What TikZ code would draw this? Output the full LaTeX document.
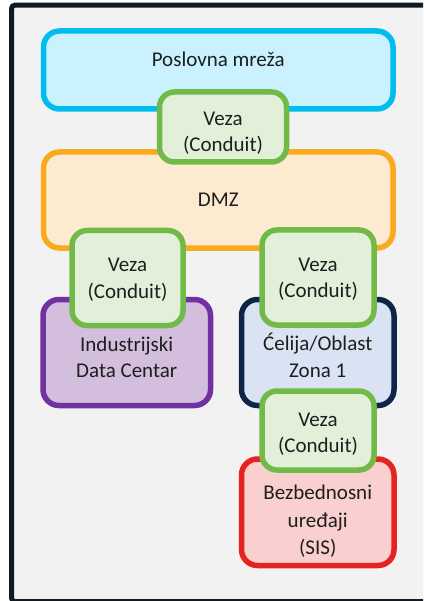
\documentclass[tikz,border=0pt]{standalone}
\usepackage{fontspec}
\setmainfont{Carlito}
\usepackage{tikz}
\definecolor{Frame}{HTML}{131B22}
\definecolor{PageBg}{HTML}{F2F2F2}
\definecolor{Ink}{HTML}{1E1E1E}
\definecolor{BizLine}{HTML}{00BDEE}
\definecolor{BizFill}{HTML}{C9F2FE}
\definecolor{DmzLine}{HTML}{FAAA1E}
\definecolor{DmzFill}{HTML}{FCEBD0}
\definecolor{ConLine}{HTML}{71BA48}
\definecolor{ConFill}{HTML}{E2F0D9}
\definecolor{IdcLine}{HTML}{7231A1}
\definecolor{IdcFill}{HTML}{D3BFDD}
\definecolor{CellLine}{HTML}{0F2547}
\definecolor{CellFill}{HTML}{DAE3F3}
\definecolor{SisLine}{HTML}{E5241F}
\definecolor{SisFill}{HTML}{F9D0CF}

\begin{document}
\begin{tikzpicture}[
        x=1pt, y=-1pt,
        every node/.style={font=\fontsize{21}{26.5}\selectfont, text=Ink},
        zone/.style={rounded corners=16pt, line width=5.5pt, inner sep=0pt},
        conduit/.style={zone, draw=ConLine, fill=ConFill, rounded corners=15pt},
        lbl/.style={align=center, inner sep=0pt}
    ]
        \fill[white] (0,0) rectangle (423,601);
        \useasboundingbox (0,0) rectangle (423,601);
        \begin{scope}
            \clip (0,0) rectangle (423,601);
            \draw[draw=Frame, fill=PageBg, line width=5pt, rounded corners=3pt] (11.7,5.2) rectangle (470,601.5);
        \end{scope}

        % zones
        \node[zone, draw=BizLine, fill=BizFill, minimum width=349.5pt, minimum height=78pt] (biz) at (218.25,70) {};
        \node[zone, draw=DmzLine, fill=DmzFill, minimum width=349.5pt, minimum height=96pt] (dmz) at (218.25,200) {};
        \node[zone, draw=IdcLine, fill=IdcFill, minimum width=167.5pt, minimum height=106pt] (idc) at (126.75,352.5) {};
        \node[zone, draw=CellLine, fill=CellFill, minimum width=152.5pt, minimum height=106pt] (cell) at (317.75,352.5) {};
        \node[zone, draw=SisLine, fill=SisFill, minimum width=152.5pt, minimum height=106.5pt] (sis) at (317.75,512.25) {};

        \node[lbl] (biz-t) at ([yshift=11pt]biz.center) {Poslovna mreža};
        \node[lbl] (dmz-t) at (dmz.center) {DMZ};
        \node[lbl] (idc-t) at ([yshift=-5pt]idc.center) {Industrijski\\Data Centar};
        \node[lbl] (cell-t) at ([yshift=-3pt]cell.center) {Ćelija/Oblast\\Zona 1};
        \node[lbl, font=\fontsize{21}{27.5}\selectfont] (sis-t) at ([yshift=-9pt]sis.center) {Bezbednosni\\uređaji\\(SIS)};

        % conduits
        \node[conduit, minimum width=127pt, minimum height=70pt] (c1) at (223,127) {};
        \node[conduit, minimum width=111pt, minimum height=95pt] (c2) at (127.5,278) {};
        \node[conduit, minimum width=112pt, minimum height=95pt] (c3) at (318,277.5) {};
        \node[conduit, minimum width=112pt, minimum height=79pt] (c4) at (318,430.5) {};

        \node[lbl] (c1-t) at ([yshift=-6pt]c1.center) {Veza\\(Conduit)};
        \node[lbl] (c2-t) at ([yshift=-1.5pt]c2.center) {Veza\\(Conduit)};
        \node[lbl] (c3-t) at ([yshift=-1.5pt]c3.center) {Veza\\(Conduit)};
        \node[lbl] (c4-t) at ([yshift=-3.5pt]c4.center) {Veza\\(Conduit)};
    \end{tikzpicture}
\end{document}
